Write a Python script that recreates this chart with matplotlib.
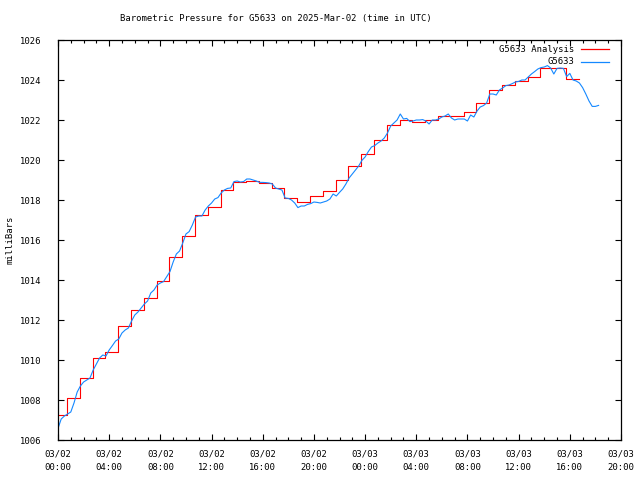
import matplotlib.pyplot as plt
from matplotlib.lines import Line2D
import numpy as np

plt.rcParams['font.family'] = ['DejaVu Sans Mono']
plt.rcParams['font.size'] = 6.4

# ====== DATA (hours since 03/02 00:00 UTC, pressure in mb) ====== #
# hourly analysis values, each step starting at hh:42
red_start = -0.3
analysis = [1007.25, 1008.1, 1009.1, 1010.1, 1010.4, 1011.7, 1012.5, 1013.1,
            1013.95, 1015.15, 1016.2, 1017.25, 1017.67, 1018.5, 1018.9, 1018.95,
            1018.83, 1018.62, 1018.08, 1017.88, 1018.22, 1018.47, 1019.0, 1019.72,
            1020.3, 1021.02, 1021.75, 1022.0, 1021.9, 1022.0, 1022.22, 1022.2,
            1022.38, 1022.83, 1023.5, 1023.75, 1023.97, 1024.15, 1024.58, 1024.58,
            1024.03]

# station observations every 15 minutes
obs_step = 0.25
station = [1006.58, 1007.05, 1007.2, 1007.3, 1007.4, 1007.85, 1008.4, 1008.7,
           1008.9, 1009.0, 1009.1, 1009.5, 1009.8, 1010.1, 1010.25, 1010.2, 1010.5,
           1010.72, 1010.95, 1011.05, 1011.35, 1011.5, 1011.6, 1011.95, 1012.25,
           1012.4, 1012.6, 1012.8, 1012.95, 1013.35, 1013.5, 1013.75, 1013.85,
           1013.92, 1014.17, 1014.42, 1014.9, 1015.3, 1015.45, 1015.85, 1016.3,
           1016.42, 1016.75, 1017.15, 1017.2, 1017.2, 1017.5, 1017.7, 1017.85,
           1018.05, 1018.12, 1018.35, 1018.5, 1018.58, 1018.6, 1018.92, 1018.95,
           1018.9, 1018.92, 1019.05, 1019.05, 1019.0, 1018.95, 1018.88, 1018.88,
           1018.87, 1018.85, 1018.8, 1018.6, 1018.55, 1018.5, 1018.1, 1018.08,
           1018.0, 1017.85, 1017.62, 1017.7, 1017.7, 1017.78, 1017.82, 1017.9,
           1017.88, 1017.85, 1017.9, 1017.95, 1018.05, 1018.3, 1018.2, 1018.38,
           1018.55, 1018.8, 1019.1, 1019.3, 1019.5, 1019.7, 1019.98, 1020.15,
           1020.42, 1020.65, 1020.72, 1020.85, 1020.95, 1021.1, 1021.35, 1021.7,
           1021.85, 1022.0, 1022.3, 1022.05, 1022.08, 1021.92, 1021.95, 1022.0,
           1022.0, 1022.02, 1021.95, 1021.8, 1022.0, 1022.0, 1022.05, 1022.15,
           1022.2, 1022.3, 1022.1, 1022.0, 1022.05, 1022.05, 1022.05, 1021.95,
           1022.25, 1022.15, 1022.45, 1022.65, 1022.72, 1022.85, 1023.3, 1023.3,
           1023.25, 1023.5, 1023.6, 1023.72, 1023.75, 1023.82, 1023.9, 1023.93,
           1024.0, 1024.0, 1024.15, 1024.3, 1024.42, 1024.55, 1024.62, 1024.65,
           1024.72, 1024.6, 1024.3, 1024.58, 1024.6, 1024.58, 1024.17, 1024.33,
           1024.0, 1023.95, 1023.85, 1023.62, 1023.3, 1022.95, 1022.68, 1022.68,
           1022.73]

tick_hours = np.arange(0, 45, 4)
tick_labels = ['03/02\n00:00', '03/02\n04:00', '03/02\n08:00', '03/02\n12:00',
               '03/02\n16:00', '03/02\n20:00', '03/03\n00:00', '03/03\n04:00',
               '03/03\n08:00', '03/03\n12:00', '03/03\n16:00', '03/03\n20:00']

red_color = '#ff0000'
blue_color = '#1488ff'

# ====== PLOT ====== #
fig = plt.figure(figsize=(6.4, 4.8), dpi=100)
ax = fig.add_axes([58/640, 40/480, 563/640, 400/480])

red_t = red_start + np.arange(len(analysis) + 1)
red_v = analysis + [analysis[-1]]
ax.plot(red_t, red_v, color=red_color, lw=0.8, drawstyle='steps-post')

obs_t = np.arange(len(station)) * obs_step
ax.plot(obs_t, station, color=blue_color, lw=0.8)

ax.set_xlim(0, 44)
ax.set_ylim(1006, 1026)
ax.set_xticks(tick_hours, tick_labels, linespacing=1.6)
ax.set_xticks(np.arange(0, 45, 1), minor=True)
ax.set_yticks(np.arange(1006, 1027, 2))
ax.tick_params(direction='in', top=True, right=True, length=4.5, width=0.8)
ax.tick_params(which='minor', direction='in', top=True, length=2.5, width=0.8)
ax.tick_params(axis='x', pad=7)
ax.tick_params(axis='y', pad=12)
for s in ax.spines.values():
    s.set_linewidth(0.9)

fig.text(10/640, 0.5, 'milliBars', rotation=90, ha='center', va='center')
fig.text(276/640, 1 - 19/480, 'Barometric Pressure for G5633 on 2025-Mar-02 (time in UTC)',
         ha='center', va='center')

# legend in gnuplot style: right-aligned text, sample line on the right
for i, (name, c) in enumerate([('G5633 Analysis', red_color), ('G5633', blue_color)]):
    y = 1 - (49 + 13 * i) / 480
    fig.text(574/640, y, name, ha='right', va='center')
    fig.add_artist(Line2D([581/640, 609/640], [y, y], color=c, lw=0.9))

fig.savefig('out.png')
